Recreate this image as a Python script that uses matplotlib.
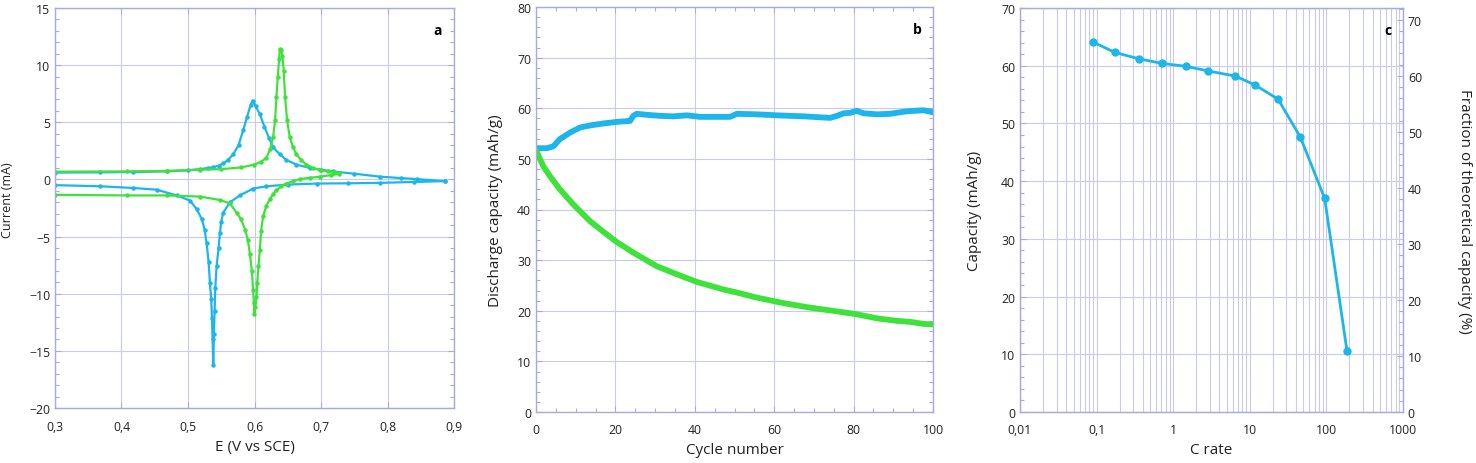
import matplotlib
matplotlib.use("Agg")
import matplotlib.pyplot as plt
from matplotlib.ticker import MultipleLocator, FuncFormatter, LogLocator, NullFormatter

plt.rcParams['font.family'] = ['Open Sans', 'DejaVu Sans']

BLUE = '#1cb6ea'
GREEN = '#3fe23a'
GRID = '#c9c9f2'
SPINE = '#a9a9e6'
TXT = '#222222'

# ---------------- Panel a : cyclic voltammograms ----------------
cv_blue_E = [0.300, 0.368, 0.418, 0.468, 0.500, 0.518, 0.530, 0.538, 0.546, 0.553, 0.560, 0.568,
             0.576, 0.583, 0.589, 0.594, 0.597, 0.602, 0.608, 0.615, 0.622, 0.628, 0.638, 0.648,
             0.663, 0.683, 0.700, 0.718, 0.750, 0.789, 0.820, 0.844, 0.886,
             0.886, 0.840, 0.789, 0.740, 0.694, 0.650, 0.618, 0.598, 0.578, 0.563, 0.553, 0.550,
             0.548, 0.546, 0.543, 0.541, 0.540, 0.539, 0.538, 0.537, 0.536, 0.535, 0.533, 0.531,
             0.528, 0.525, 0.521, 0.513, 0.503, 0.483, 0.453, 0.418, 0.368, 0.300]
cv_blue_I = [0.60, 0.62, 0.65, 0.70, 0.80, 0.90, 1.00, 1.07, 1.20, 1.40, 1.70, 2.20,
             3.00, 4.30, 5.50, 6.50, 6.90, 6.40, 5.70, 4.60, 3.60, 2.80, 2.20, 1.70,
             1.30, 1.00, 0.85, 0.70, 0.50, 0.24, 0.12, 0.03, -0.15,
             -0.15, -0.22, -0.30, -0.34, -0.36, -0.45, -0.60, -0.80, -1.40, -2.00, -2.90, -3.70,
             -4.70, -6.00, -7.60, -9.50, -11.5, -13.5, -16.2, -14.0, -12.1, -10.5, -9.10, -7.20,
             -5.60, -4.40, -3.50, -2.60, -1.85, -1.40, -0.90, -0.75, -0.60, -0.50]

cv_green_E = [0.300, 0.408, 0.468, 0.518, 0.550, 0.580, 0.600, 0.610, 0.618, 0.624, 0.628, 0.631,
              0.633, 0.635, 0.637, 0.638, 0.640, 0.642, 0.644, 0.646, 0.649, 0.653, 0.658, 0.663,
              0.670, 0.678, 0.688, 0.698, 0.710, 0.718, 0.727,
              0.727, 0.715, 0.698, 0.683, 0.668, 0.658, 0.648, 0.640, 0.633, 0.628, 0.623, 0.618,
              0.613, 0.610, 0.608, 0.606, 0.604, 0.603, 0.601, 0.600, 0.599, 0.598, 0.596, 0.593,
              0.590, 0.586, 0.580, 0.573, 0.563, 0.548, 0.518, 0.468, 0.408, 0.300]
cv_green_I = [0.68, 0.70, 0.75, 0.85, 0.90, 1.05, 1.30, 1.55, 1.90, 2.70, 3.70, 5.20,
              7.20, 9.00, 10.5, 11.4, 11.3, 10.8, 9.50, 7.20, 5.20, 3.70, 2.80, 2.20,
              1.70, 1.30, 1.00, 0.83, 0.70, 0.63, 0.54,
              0.48, 0.38, 0.24, 0.14, 0.03, -0.15, -0.36, -0.60, -0.95, -1.30, -1.70, -2.30,
              -3.20, -4.50, -6.20, -7.60, -9.10, -10.3, -11.2, -11.8, -10.8, -9.70, -8.00, -6.50,
              -5.30, -4.40, -3.50, -2.90, -2.10, -1.80, -1.50, -1.40, -1.40, -1.35]

# ---------------- Panel b : cycling ----------------
cyc_blue_n = [0, 2.7, 4.4, 6, 8.6, 11.1, 13.6, 17, 20.3, 23.7, 24.5, 25.4, 27.9, 31.3, 34.6, 38,
              41.3, 48.9, 50.6, 55.6, 60.7, 67.4, 74.1, 75.8, 77.5, 79.2, 80.8, 82.5, 85.9,
              89.2, 93.4, 97.6, 100]
cyc_blue_q = [52.1, 52.1, 52.5, 53.9, 55.2, 56.2, 56.6, 57.0, 57.3, 57.5, 58.5, 58.9, 58.7, 58.5,
              58.4, 58.6, 58.3, 58.3, 58.9, 58.8, 58.6, 58.4, 58.1, 58.5, 59.0, 59.1, 59.5, 59.0,
              58.8, 58.9, 59.4, 59.6, 59.2]
cyc_green_n = [0, 1.8, 3.5, 6, 9.4, 13.6, 17.8, 20.3, 24.5, 30.4, 35.5, 40.5, 47.2, 50.6, 55.6,
               62.4, 69.1, 76.5, 80.8, 85.9, 90.9, 94.3, 97.6, 100]
cyc_green_q = [51.7, 48.6, 46.6, 44.0, 41.0, 37.7, 35.1, 33.6, 31.5, 28.8, 27.2, 25.7, 24.2, 23.6,
               22.6, 21.5, 20.6, 19.8, 19.3, 18.5, 18.0, 17.8, 17.4, 17.3]

# ---------------- Panel c : rate capability ----------------
c_rate = [0.09, 0.173, 0.356, 0.72, 1.45, 2.86, 6.45, 11.6, 23.4, 45.8, 95, 186]
c_cap = [64.1, 62.3, 61.2, 60.4, 59.9, 59.1, 58.2, 56.7, 54.2, 47.6, 37.0, 10.5]

W, H = 1476, 464
fig = plt.figure(figsize=(W / 100, H / 100), dpi=100)


def box(l, r, t, b):
    return [l / W, (H - b) / H, (r - l) / W, (b - t) / H]


def style(ax):
    for s in ax.spines.values():
        s.set_color(SPINE)
        s.set_linewidth(1.0)
    ax.tick_params(which='both', direction='in', colors=SPINE, labelcolor=TXT,
                   labelsize=8.8, length=4, width=0.8)
    ax.tick_params(which='minor', length=3)
    ax.grid(True, which='major', color=GRID, linewidth=0.8)
    ax.set_axisbelow(True)


comma = FuncFormatter(lambda v, p: ('%g' % v).replace('.', ','))

# Panel a
axa = fig.add_axes(box(55, 454, 9, 409))
style(axa)
axa.plot(cv_blue_E, cv_blue_I, color=BLUE, lw=1.6, marker='o', ms=2.2)
axa.plot(cv_green_E, cv_green_I, color=GREEN, lw=1.6, marker='o', ms=2.2)
axa.set_xlim(0.3, 0.9)
axa.set_ylim(-20, 15)
axa.xaxis.set_major_locator(MultipleLocator(0.1))
axa.yaxis.set_major_locator(MultipleLocator(5))
axa.yaxis.set_minor_locator(MultipleLocator(1))
axa.xaxis.set_major_formatter(comma)
axa.tick_params(axis='y', which='both', left=True, right=True)
axa.tick_params(axis='x', which='both', top=True, bottom=True, pad=9)
axa.set_xlabel('E (V vs SCE)', fontsize=11, color=TXT, labelpad=4)
axa.text(0.96, 0.945, 'a', transform=axa.transAxes, fontsize=10, fontweight='bold',
         ha='center', va='center', color='black')
fig.text(8 / W, (H - 200) / H, 'Current (mA)', rotation=90, fontsize=9, color=TXT,
         ha='center', va='center')

# Panel b
axb = fig.add_axes(box(536, 933, 8, 413))
style(axb)
axb.plot(cyc_blue_n, cyc_blue_q, color=BLUE, lw=4.2, solid_capstyle='round')
axb.plot(cyc_green_n, cyc_green_q, color=GREEN, lw=4.2, solid_capstyle='round')
axb.set_xlim(0, 100)
axb.set_ylim(0, 80)
axb.xaxis.set_major_locator(MultipleLocator(20))
axb.xaxis.set_minor_locator(MultipleLocator(5))
axb.yaxis.set_major_locator(MultipleLocator(10))
axb.yaxis.set_minor_locator(MultipleLocator(2))
axb.tick_params(which='both', left=True, right=True, top=True, bottom=True)
axb.tick_params(axis='x', pad=8)
axb.set_xlabel('Cycle number', fontsize=11, color=TXT, labelpad=4)
axb.set_ylabel('Discharge capacity (mAh/g)', fontsize=11, color=TXT, labelpad=10)
axb.text(0.96, 0.945, 'b', transform=axb.transAxes, fontsize=10, fontweight='bold',
         ha='center', va='center', color='black')

# Panel c
axc = fig.add_axes(box(1020, 1403, 9, 413))
style(axc)
axc.grid(True, which='minor', axis='x', color=GRID, linewidth=0.8)
axc.plot(c_rate, c_cap, color=BLUE, lw=2.0, marker='o', ms=5)
axc.set_xscale('log')
axc.set_xlim(0.01, 1000)
axc.set_ylim(0, 70)
axc.xaxis.set_major_locator(LogLocator(base=10, numticks=10))
axc.xaxis.set_minor_locator(LogLocator(base=10, subs=range(2, 10), numticks=20))
axc.xaxis.set_minor_formatter(NullFormatter())
axc.xaxis.set_major_formatter(comma)
axc.yaxis.set_major_locator(MultipleLocator(10))
axc.yaxis.set_minor_locator(MultipleLocator(2))
axc.tick_params(axis='x', which='both', length=0, pad=8)
axc.set_xlabel('C rate', fontsize=11, color=TXT, labelpad=4)
axc.set_ylabel('Capacity (mAh/g)', fontsize=11, color=TXT, labelpad=14)
axc.text(0.96, 0.945, 'c', transform=axc.transAxes, fontsize=10, fontweight='bold',
         ha='center', va='center', color='black')

axr = axc.twinx()
axr.set_ylim(0, 72.1)
axr.yaxis.set_major_locator(MultipleLocator(10))
axr.yaxis.set_minor_locator(MultipleLocator(2))
for s in axr.spines.values():
    s.set_color(SPINE)
axr.tick_params(which='both', direction='in', colors=SPINE, labelcolor=TXT,
                labelsize=8.8, length=4, width=0.8)
axr.tick_params(which='minor', length=3)
axr.set_ylabel('Fraction of theoretical capacity (%)', fontsize=11, color=TXT,
               rotation=-90, labelpad=36)

fig.savefig('out.png', dpi=100)
